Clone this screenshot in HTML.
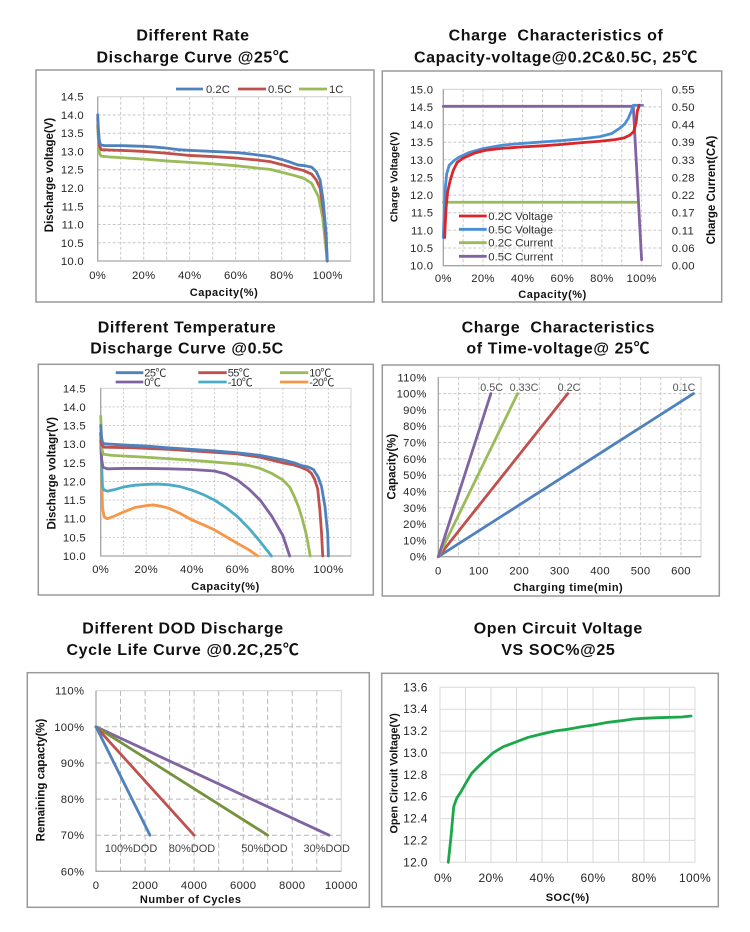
<!DOCTYPE html>
<html><head><meta charset="utf-8"><style>
html,body{margin:0;padding:0;background:#fff}
svg{display:block}
text{font-family:"Liberation Sans","Noto Sans CJK SC",sans-serif}
.t{font-size:16px;font-weight:bold;letter-spacing:0.6px;text-anchor:middle;fill:#111;white-space:pre}
.tk{font-size:11.3px;fill:#262626;letter-spacing:0.3px}
.r{text-anchor:end}
.m{text-anchor:middle}
.at{font-size:11.5px;font-weight:bold;text-anchor:middle;fill:#111}
.ah{font-size:11px;font-weight:bold;text-anchor:middle;fill:#111;letter-spacing:0.5px}
.lg{font-size:11.3px;fill:#333}
.fr{fill:#fff;stroke:#999;stroke-width:1.5}
.gd{stroke:#c8c8c8;stroke-width:1;stroke-dasharray:3,2;fill:none}
.gs{stroke:#d9d9d9;stroke-width:1;fill:none}
.pb{fill:none;stroke:#d0d0d0;stroke-width:1}
.ax{stroke:#a6a6a6;stroke-width:1.3;fill:none}
.s{fill:none;stroke-width:2.8;stroke-linejoin:round;stroke-linecap:round}
.v{vector-effect:non-scaling-stroke}
</style></head><body>
<svg width="750" height="932" viewBox="0 0 750 932" xmlns="http://www.w3.org/2000/svg">
<rect width="750" height="932" fill="#fff"/>

<!-- ========== CHART 1 ========== -->
<text class="t" x="193" y="40.7">Different Rate</text>
<text class="t" x="193" y="62.7">Discharge Curve @25℃</text>
<rect class="fr" x="36" y="70" width="338" height="232"/>
<g class="gd">
<path d="M120.7,96.7V261M143.7,96.7V261M166.7,96.7V261M189.7,96.7V261M212.7,96.7V261M235.7,96.7V261M258.7,96.7V261M281.7,96.7V261M304.7,96.7V261M327.7,96.7V261"/>
<path d="M97.7,115H350.7M97.7,133.2H350.7M97.7,151.5H350.7M97.7,169.7H350.7M97.7,188H350.7M97.7,206.3H350.7M97.7,224.5H350.7M97.7,242.8H350.7"/>
</g>
<rect class="pb" x="97.7" y="96.7" width="253" height="164.3"/>
<path class="ax" d="M97.7,96.7V261H350.7"/>
<g class="tk r">
<text x="84" y="100.7">14.5</text><text x="84" y="119">14.0</text><text x="84" y="137.2">13.5</text><text x="84" y="155.5">13.0</text><text x="84" y="173.7">12.5</text><text x="84" y="192">12.0</text><text x="84" y="210.3">11.5</text><text x="84" y="228.5">11.0</text><text x="84" y="246.8">10.5</text><text x="84" y="265">10.0</text>
</g>
<g class="tk m">
<text x="97.7" y="279">0%</text><text x="143.7" y="279">20%</text><text x="189.7" y="279">40%</text><text x="235.7" y="279">60%</text><text x="281.7" y="279">80%</text><text x="327.7" y="279">100%</text>
</g>
<text class="ah" x="224" y="296">Capacity(%)</text>
<text class="at" transform="translate(53,175) rotate(-90)">Discharge voltage(V)</text>
<g>
<path d="M176,89H203" stroke="#4f81bd" stroke-width="2.8"/><text class="lg" x="206" y="93">0.2C</text>
<path d="M238,89H266" stroke="#c0504d" stroke-width="2.8"/><text class="lg" x="268" y="93">0.5C</text>
<path d="M299,89H327" stroke="#9bbb59" stroke-width="2.8"/><text class="lg" x="329" y="93">1C</text>
</g>
<g transform="translate(97.7,261) scale(2.3,-36.52) translate(0,-10)">
<path class="s v" stroke="#9bbb59" d="M0,13.7 L0.3,13.3 0.8,12.95 1.5,12.87 5,12.85 10,12.83 20,12.79 30,12.74 40,12.7 50,12.66 60,12.61 70,12.54 75,12.51 80,12.43 85,12.35 89.4,12.27 93,12.13 96,11.76 97.8,11.2 99.3,10.3 99.8,10"/>
<path class="s v" stroke="#c0504d" d="M0,13.9 L0.3,13.5 0.8,13.15 1.5,13.05 5,13.04 10,13.03 20,13 30,12.95 40,12.89 50,12.86 60,12.82 70,12.76 75,12.72 80,12.64 85,12.55 89.4,12.48 93,12.38 95,12.22 96.7,12 98.5,11.2 99.3,10.6 99.8,10"/>
<path class="s v" stroke="#4f81bd" d="M0,14 L0.3,13.6 0.7,13.3 1.2,13.18 3,13.16 10,13.16 20,13.14 25,13.12 30,13.09 35,13.05 40,13.03 50,13 60,12.97 65,12.94 70,12.9 75,12.86 80,12.78 84,12.7 87,12.63 90,12.61 93,12.57 95,12.45 96.7,12.22 98,11.67 99.3,10.76 99.8,10"/>
</g>

<!-- ========== CHART 2 ========== -->
<text class="t" x="556" y="40.7">Charge  Characteristics of</text>
<text class="t" x="556" y="62.7">Capacity-voltage@0.2C&amp;0.5C, 25℃</text>
<rect class="fr" x="382.3" y="71" width="339.4" height="231"/>
<g class="gd">
<path d="M463.1,89.3V265.7M483,89.3V265.7M502.8,89.3V265.7M522.6,89.3V265.7M542.5,89.3V265.7M562.3,89.3V265.7M582.1,89.3V265.7M601.9,89.3V265.7M621.8,89.3V265.7M641.6,89.3V265.7"/>
<path d="M443.3,106.9H661.5M443.3,124.6H661.5M443.3,142.2H661.5M443.3,159.8H661.5M443.3,177.5H661.5M443.3,195.1H661.5M443.3,212.7H661.5M443.3,230.3H661.5M443.3,248H661.5"/>
</g>
<rect class="pb" x="443.3" y="89.3" width="218.2" height="176.4"/>
<path class="ax" d="M443.3,89.3V265.7H661.5"/>
<g class="tk r">
<text x="433.3" y="93.3">15.0</text><text x="433.3" y="110.9">14.5</text><text x="433.3" y="128.6">14.0</text><text x="433.3" y="146.2">13.5</text><text x="433.3" y="163.8">13.0</text><text x="433.3" y="181.5">12.5</text><text x="433.3" y="199.1">12.0</text><text x="433.3" y="216.7">11.5</text><text x="433.3" y="234.3">11.0</text><text x="433.3" y="252">10.5</text><text x="433.3" y="269.7">10.0</text>
</g>
<g class="tk">
<text x="671.7" y="93.3">0.55</text><text x="671.7" y="110.9">0.50</text><text x="671.7" y="128.6">0.44</text><text x="671.7" y="146.2">0.39</text><text x="671.7" y="163.8">0.33</text><text x="671.7" y="181.5">0.28</text><text x="671.7" y="199.1">0.22</text><text x="671.7" y="216.7">0.17</text><text x="671.7" y="234.3">0.11</text><text x="671.7" y="252">0.06</text><text x="671.7" y="269.7">0.00</text>
</g>
<g class="tk m">
<text x="443.3" y="282">0%</text><text x="483" y="282">20%</text><text x="522.6" y="282">40%</text><text x="562.3" y="282">60%</text><text x="601.9" y="282">80%</text><text x="641.6" y="282">100%</text>
</g>
<text class="ah" x="552.5" y="298">Capacity(%)</text>
<text class="at" style="font-size:10.5px" transform="translate(397.3,177) rotate(-90)">Charge Voltage(V)</text>
<text class="at" transform="translate(715,190) rotate(-90)">Charge Current(CA)</text>
<g transform="translate(443.3,265.7) scale(1.983,-35.26) translate(0,-10)">
<path class="s v" stroke="#9bbb59" d="M0,11.8 L97.2,11.8"/>
<path class="s v" stroke="#8064a2" d="M0,14.52 L95.8,14.52 L100,10.17"/>
<path class="s v" stroke="#4a8fd6" d="M0,10.8 L0.5,11.6 1,12.2 1.7,12.6 3,12.85 5.4,12.98 8,13.08 12.6,13.2 20,13.32 30,13.42 40,13.47 50,13.51 60,13.55 70,13.6 79,13.66 85,13.75 89,13.9 91.5,14.02 93.3,14.18 94.8,14.38 95.8,14.55 100.5,14.55"/>
<path class="s v" stroke="#d9262b" d="M0.7,10.8 L1,11.2 1.5,11.7 2.2,12.1 3.4,12.4 5,12.7 7,12.93 10,13.05 16,13.2 22,13.28 30,13.33 40,13.37 50,13.4 60,13.44 70,13.49 79,13.53 87,13.58 91,13.62 94,13.7 96,13.8 97.2,14.05 97.8,14.37 98.8,14.55"/>
</g>
<g>
<path d="M459,216H486.7" stroke="#d9262b" stroke-width="2.8"/><text class="lg" x="488.3" y="220">0.2C Voltage</text>
<path d="M459,229.3H486.7" stroke="#4a8fd6" stroke-width="2.8"/><text class="lg" x="488.3" y="233.3">0.5C Voltage</text>
<path d="M459,242.7H486.7" stroke="#9bbb59" stroke-width="2.8"/><text class="lg" x="488.3" y="246.7">0.2C Current</text>
<path d="M459,256.3H486.7" stroke="#8064a2" stroke-width="2.8"/><text class="lg" x="488.3" y="260.3">0.5C Current</text>
</g>

<!-- ========== CHART 3 ========== -->
<text class="t" x="187" y="332.3">Different Temperature</text>
<text class="t" x="187" y="353.7">Discharge Curve @0.5C</text>
<rect class="fr" x="38.3" y="364.3" width="335" height="230.7"/>
<g class="gd" style="stroke-dasharray:2,2">
<path d="M123.5,388.3V556M146.2,388.3V556M169,388.3V556M191.8,388.3V556M214.6,388.3V556M237.3,388.3V556M260.1,388.3V556M282.9,388.3V556M305.6,388.3V556M328.4,388.3V556"/>
<path d="M100.7,406.9H351M100.7,425.6H351M100.7,444.2H351M100.7,462.8H351M100.7,481.5H351M100.7,500.1H351M100.7,518.7H351M100.7,537.4H351"/>
</g>
<rect class="pb" x="100.7" y="388.3" width="250.3" height="167.7"/>
<path class="ax" d="M100.7,388.3V556H351"/>
<g class="tk r">
<text x="86" y="392.3">14.5</text><text x="86" y="410.9">14.0</text><text x="86" y="429.6">13.5</text><text x="86" y="448.2">13.0</text><text x="86" y="466.8">12.5</text><text x="86" y="485.5">12.0</text><text x="86" y="504.1">11.5</text><text x="86" y="522.7">11.0</text><text x="86" y="541.4">10.5</text><text x="86" y="560">10.0</text>
</g>
<g class="tk m">
<text x="100.7" y="573">0%</text><text x="146.2" y="573">20%</text><text x="191.8" y="573">40%</text><text x="237.3" y="573">60%</text><text x="282.9" y="573">80%</text><text x="328.4" y="573">100%</text>
</g>
<text class="ah" x="225.5" y="590">Capacity(%)</text>
<text class="at" transform="translate(55.7,473.3) rotate(-90)">Discharge voltagr(V)</text>
<g style="font-size:11px;fill:#333;letter-spacing:-0.6px">
<path d="M115.7,372.7H143.3" stroke="#4f81bd" stroke-width="2.8"/><text x="144.3" y="376.4">25℃</text>
<path d="M198.3,372.7H226.7" stroke="#c0504d" stroke-width="2.8"/><text x="227.7" y="376.4">55℃</text>
<path d="M280,372.7H308.3" stroke="#9bbb59" stroke-width="2.8"/><text x="309.3" y="376.4">10℃</text>
<path d="M115.7,382H143.3" stroke="#8064a2" stroke-width="2.8"/><text x="144.3" y="385.8">0℃</text>
<path d="M198.3,382H226.7" stroke="#4bacc6" stroke-width="2.8"/><text x="227.7" y="385.8">-10℃</text>
<path d="M280,382H308.3" stroke="#f79646" stroke-width="2.8"/><text x="309.3" y="385.8">-20℃</text>
</g>
<g transform="translate(100.7,556) scale(2.277,-37.27) translate(0,-10)">
<path class="s v" stroke="#f79646" d="M0,13.3 L0.4,12.3 0.8,11.3 1.5,11.05 3,11 6,11.07 10,11.18 15,11.3 20,11.35 23,11.37 27,11.33 30,11.28 35,11.14 40,10.97 45,10.84 50,10.7 55,10.52 60,10.34 65,10.17 69,10"/>
<path class="s v" stroke="#4bacc6" d="M0,13.3 L0.4,12.5 0.8,11.85 1.5,11.77 3,11.74 6,11.78 10,11.85 15,11.9 20,11.92 25,11.93 30,11.91 35,11.86 40,11.77 45,11.65 50,11.5 55,11.3 60,11.06 65,10.75 70,10.39 75,10"/>
<path class="s v" stroke="#8064a2" d="M0,13.1 L0.4,12.6 1,12.38 3,12.34 10,12.35 20,12.35 30,12.34 40,12.32 50,12.28 55,12.2 60,12.04 65,11.8 70,11.5 75,11.08 80,10.55 83,10"/>
<path class="s v" stroke="#9bbb59" d="M0,13.75 L0.3,13.3 0.6,12.85 1.2,12.73 5,12.7 20,12.65 40,12.57 50,12.52 60,12.47 65,12.43 70,12.35 75,12.22 80,12.04 83,11.85 85,11.6 87,11.3 88.5,11 90,10.65 91,10.35 92,10"/>
<path class="s v" stroke="#c0504d" d="M0,13.3 L0.3,13.05 0.8,12.95 1.5,12.92 10,12.91 20,12.89 30,12.86 40,12.82 50,12.78 60,12.74 70,12.65 80,12.5 85,12.44 88,12.38 91,12.3 92.5,12.22 94,12.05 95.3,11.8 96.3,11.2 97,10.6 97.5,10"/>
<path class="s v" stroke="#4f81bd" d="M0,13.5 L0.3,13.2 0.8,13.05 1.5,13.01 10,12.98 20,12.95 30,12.9 40,12.86 50,12.82 60,12.77 70,12.7 80,12.58 85,12.5 88,12.43 91,12.39 93.4,12.32 95.5,12.12 97,11.86 98.5,11.32 99.7,10.6 100,10"/>
</g>

<!-- ========== CHART 4 ========== -->
<text class="t" x="558.3" y="332.3">Charge  Characteristics</text>
<text class="t" x="558.3" y="353.7">of Time-voltage@ 25℃</text>
<rect class="fr" x="382.3" y="365" width="337" height="231"/>
<g class="gd">
<path d="M458.5,377.3V556.7M478.8,377.3V556.7M499,377.3V556.7M519.2,377.3V556.7M539.4,377.3V556.7M559.7,377.3V556.7M579.9,377.3V556.7M600.1,377.3V556.7M620.3,377.3V556.7M640.6,377.3V556.7M660.8,377.3V556.7M681,377.3V556.7"/>
<path d="M438.3,393.6H701M438.3,409.9H701M438.3,426.2H701M438.3,442.5H701M438.3,458.9H701M438.3,475.2H701M438.3,491.5H701M438.3,507.8H701M438.3,524.1H701M438.3,540.4H701"/>
</g>
<rect class="pb" x="438.3" y="377.3" width="262.7" height="179.4"/>
<path class="ax" d="M438.3,377.3V556.7H701"/>
<g class="tk r">
<text x="426.7" y="381.3">110%</text><text x="426.7" y="397.6">100%</text><text x="426.7" y="413.9">90%</text><text x="426.7" y="430.2">80%</text><text x="426.7" y="446.5">70%</text><text x="426.7" y="462.9">60%</text><text x="426.7" y="479.2">50%</text><text x="426.7" y="495.5">40%</text><text x="426.7" y="511.8">30%</text><text x="426.7" y="528.1">20%</text><text x="426.7" y="544.4">10%</text><text x="426.7" y="560.7">0%</text>
</g>
<g class="tk m">
<text x="438.3" y="574.7">0</text><text x="478.8" y="574.7">100</text><text x="519.2" y="574.7">200</text><text x="559.7" y="574.7">300</text><text x="600.1" y="574.7">400</text><text x="640.6" y="574.7">500</text><text x="681" y="574.7">600</text>
</g>
<text class="ah" x="568.3" y="591">Charging time(min)</text>
<text class="at" transform="translate(395.7,466.7) rotate(-90)">Capacity(%)</text>
<path class="s" stroke="#4f81bd" d="M438.3,556.7L693.5,393.6"/>
<path class="s" stroke="#c0504d" d="M438.3,556.7L567.7,393.6"/>
<path class="s" stroke="#9bbb59" d="M438.3,556.7L517.6,393.6"/>
<path class="s" stroke="#8064a2" d="M438.3,556.7L490.9,393.6"/>
<g style="font-size:10.8px;fill:#555;text-anchor:middle">
<text x="491.7" y="391">0.5C</text><text x="524" y="391">0.33C</text><text x="569" y="391">0.2C</text><text x="684" y="391">0.1C</text>
</g>

<!-- ========== CHART 5 ========== -->
<text class="t" x="183" y="633.3">Different DOD Discharge</text>
<text class="t" x="183" y="655">Cycle Life Curve @0.2C,25℃</text>
<rect class="fr" x="27.3" y="672.7" width="342" height="234.6"/>
<g class="gd" style="stroke:#b8b8b8;stroke-dasharray:5,3">
<path d="M120.5,690.7V871.3M145.1,690.7V871.3M169.6,690.7V871.3M194.1,690.7V871.3M218.7,690.7V871.3M243.2,690.7V871.3M267.7,690.7V871.3M292.2,690.7V871.3M316.8,690.7V871.3"/>
<path d="M96,726.8H341.3M96,763H341.3M96,799.1H341.3M96,835.2H341.3"/>
</g>
<rect class="pb" x="96" y="690.7" width="245.3" height="180.6"/>
<path class="ax" d="M96,690.7V871.3H341.3"/>
<g class="tk r">
<text x="84.3" y="694.7">110%</text><text x="84.3" y="730.8">100%</text><text x="84.3" y="767">90%</text><text x="84.3" y="803.1">80%</text><text x="84.3" y="839.2">70%</text><text x="84.3" y="875.3">60%</text>
</g>
<g class="tk m">
<text x="96" y="889">0</text><text x="145.1" y="889">2000</text><text x="194.1" y="889">4000</text><text x="243.2" y="889">6000</text><text x="292.2" y="889">8000</text><text x="341.3" y="889">10000</text>
</g>
<text class="ah" x="190.7" y="903">Number of Cycles</text>
<text class="at" transform="translate(44.7,780) rotate(-90)">Remaining capacty(%)</text>
<path class="s" stroke="#8064a2" d="M96,726.8L329,835.2"/>
<path class="s" stroke="#76923c" d="M96,726.8L267.7,835.2"/>
<path class="s" stroke="#c0504d" d="M96,726.8L194.1,835.2"/>
<path class="s" stroke="#4f81bd" d="M96,726.8L150,835.2"/>
<g style="font-size:11px;fill:#404040;text-anchor:middle">
<text x="131" y="852">100%DOD</text><text x="192" y="852">80%DOD</text><text x="264.5" y="852">50%DOD</text><text x="326.7" y="852">30%DOD</text>
</g>

<!-- ========== CHART 6 ========== -->
<text class="t" x="558.3" y="633.3">Open Circuit Voltage</text>
<text class="t" x="558.3" y="655">VS SOC%@25</text>
<rect class="fr" x="381.7" y="673.3" width="336.6" height="233.4"/>
<g class="gs">
<path d="M440,687.3V862.3M465.5,687.3V862.3M491,687.3V862.3M516.5,687.3V862.3M542,687.3V862.3M567.5,687.3V862.3M593,687.3V862.3M618.5,687.3V862.3M644,687.3V862.3M669.5,687.3V862.3M695,687.3V862.3"/>
<path d="M440,687.3H695M440,709.2H695M440,731.1H695M440,752.9H695M440,774.8H695M440,796.7H695M440,818.6H695M440,840.4H695M440,862.3H695"/>
</g>
<g class="tk r" style="font-size:12px">
<text x="427.7" y="691.3">13.6</text><text x="427.7" y="713.2">13.4</text><text x="427.7" y="735.1">13.2</text><text x="427.7" y="756.9">13.0</text><text x="427.7" y="778.8">12.8</text><text x="427.7" y="800.7">12.6</text><text x="427.7" y="822.6">12.4</text><text x="427.7" y="844.4">12.2</text><text x="427.7" y="866.3">12.0</text>
</g>
<g class="tk m" style="font-size:12px">
<text x="443" y="882">0%</text><text x="491" y="882">20%</text><text x="542" y="882">40%</text><text x="593" y="882">60%</text><text x="644" y="882">80%</text><text x="695" y="882">100%</text>
</g>
<text class="ah" x="567.7" y="901">SOC(%)</text>
<text class="at" style="font-size:10.8px" transform="translate(397.3,773.3) rotate(-90)">Open Circuit Voltage(V)</text>
<path class="s" stroke="#1ca84a" stroke-width="3" d="M448.3,862.3 L451,836.7 453.7,806.7 456.7,798.3 461,791.7 465.7,783.3 471.7,773.3 481.7,763.3 493.3,752.7 503.3,746.7 516.7,741.7 528.3,737.3 541.7,734 555,731 567.7,729.3 581.7,726.7 593.3,725 608.3,722.3 621.7,720.7 633.3,719 644,718.3 658.3,717.7 681.7,717 691,716"/>
</svg>
</body></html>
